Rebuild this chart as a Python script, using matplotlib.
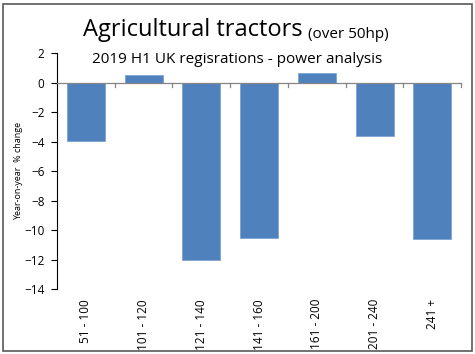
import numpy as np
import matplotlib.pyplot as plt
from matplotlib.patches import Rectangle

plt.rcParams['font.family'] = ['Open Sans', 'DejaVu Sans']

# power bands (hp) and year-on-year % change
bands = ['51 - 100', '101 - 120', '121 - 140', '141 - 160', '161 - 200', '201 - 240', '241 +']
change = [-3.95, 0.5, -12.05, -10.55, 0.68, -3.63, -10.6]

fig = plt.figure(figsize=(4.75, 3.54), dpi=100)
ax = fig.add_axes([0.12, 0.183, 0.851, 0.667])

x = np.arange(len(bands))
ax.bar(x, change, width=0.66, color='#4F81BD', edgecolor='#7FA3D3', linewidth=0.6, zorder=2)

ax.set_xlim(-0.5, len(bands) - 0.5)
ax.set_ylim(-14, 2)
ax.set_yticks(np.arange(-14, 3, 2))
ax.tick_params(axis='y', direction='out', length=4, width=0.8, labelsize=8.5, pad=5)

# category axis sits at zero, labels stay at the bottom
ax.spines['top'].set_visible(False)
ax.spines['right'].set_visible(False)
ax.spines['bottom'].set_visible(False)
ax.spines['left'].set_color('black')
ax.axhline(0, color='#868686', linewidth=0.9, zorder=3)
for b in np.arange(0.5, len(bands), 1.0):
    ax.plot([b, b], [0, -0.28], color='#868686', linewidth=0.9, zorder=3, clip_on=False)
ax.set_xticks(x)
ax.set_xticklabels(bands, rotation=90, fontsize=8.5)
ax.tick_params(axis='x', length=0, pad=7)

ax.set_ylabel('Year-on-year  % change', fontsize=6.5, labelpad=0.5)

t = fig.text(83 / 475, 1 - 36 / 354, 'Agricultural tractors', fontsize=17, ha='left', va='baseline')
fig.canvas.draw()
ax.annotate('(over 50hp)', xy=(1, 0), xycoords=t, xytext=(4, 0), textcoords='offset points',
            fontsize=11, ha='left', va='bottom', annotation_clip=False)
fig.text(237 / 475, 1 - 63 / 354, '2019 H1 UK regisrations - power analysis', fontsize=11,
         ha='center', va='baseline')

# outer chart border
fig.patches.append(Rectangle((3 / 475, 3 / 354), 469 / 475, 347 / 354, transform=fig.transFigure,
                             fill=False, edgecolor='#595959', linewidth=1.2))

plt.savefig('out.png', dpi=100)
